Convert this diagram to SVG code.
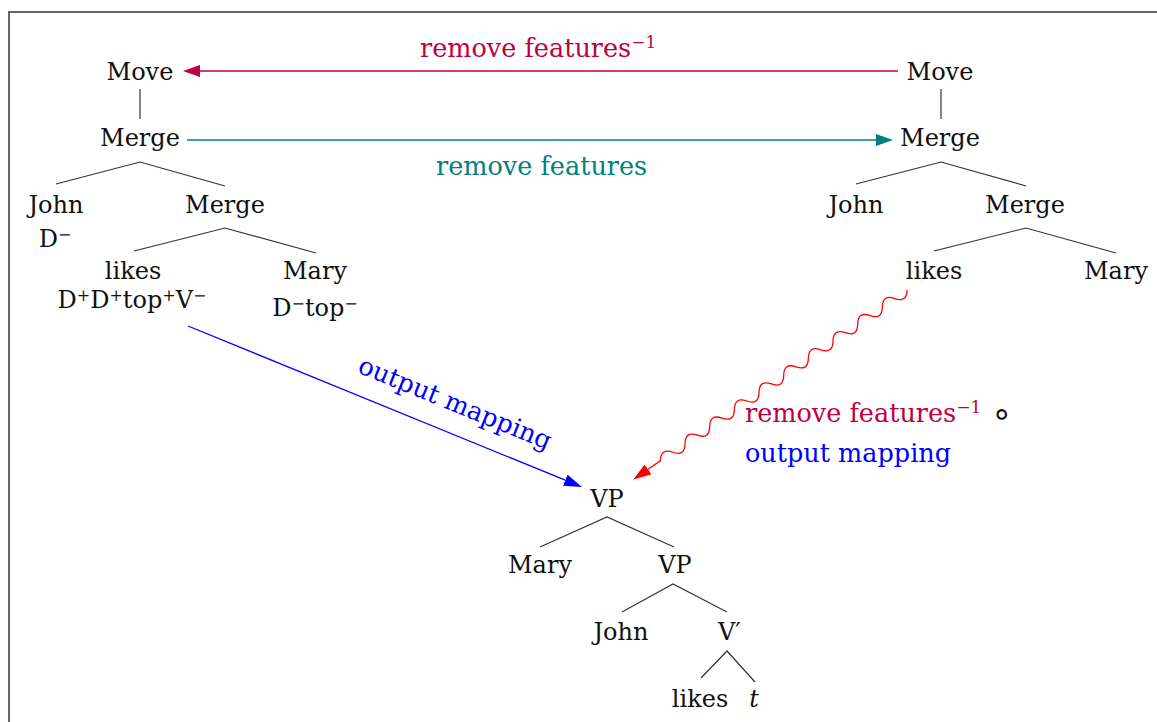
<svg xmlns="http://www.w3.org/2000/svg" width="1157" height="722" viewBox="0 0 1157 722">
<style>
.n{font-family:"DejaVu Serif","Liberation Serif",serif;font-size:24px;fill:#111;text-anchor:middle}
.lb{font-family:"DejaVu Serif","Liberation Serif",serif;font-size:25.5px}
.e{stroke:#333;stroke-width:1.2;fill:none}
.s{font-size:16px}
.s2{font-size:17px}
</style>
<defs>
<marker id="mP" viewBox="0 0 17 12" refX="0" refY="6" markerWidth="17" markerHeight="12" orient="auto" markerUnits="userSpaceOnUse"><path d="M0,0 L17,6 L0,12 z" fill="#bf0040"/></marker>
<marker id="mT" viewBox="0 0 17 12" refX="0" refY="6" markerWidth="17" markerHeight="12" orient="auto" markerUnits="userSpaceOnUse"><path d="M0,0 L17,6 L0,12 z" fill="#008080"/></marker>
<marker id="mB" viewBox="0 0 18 12" refX="0" refY="6" markerWidth="18" markerHeight="12" orient="auto" markerUnits="userSpaceOnUse"><path d="M0,0 L18,6 L0,12 z" fill="#0000ff"/></marker>
<marker id="mR" viewBox="0 0 18 12" refX="0" refY="6" markerWidth="18" markerHeight="12" orient="auto" markerUnits="userSpaceOnUse"><path d="M0,0 L18,6 L0,12 z" fill="#ff0000"/></marker>
</defs>
<rect width="1157" height="722" fill="#fff"/>
<path d="M9,722 L9,12 L1157,12" fill="none" stroke="#666" stroke-width="2"/>

<g id="connectors">
  <!-- left tree edges -->
  <path class="e" d="M140,89 L140,119"/>
  <path class="e" d="M56,184 L140,162 L225,186"/>
  <path class="e" d="M134,251 L225,228 L316,253"/>
  <!-- right tree edges -->
  <path class="e" d="M941,89 L941,119"/>
  <path class="e" d="M856,184 L941,162 L1026,186"/>
  <path class="e" d="M934,251 L1026,228 L1116,253"/>
  <!-- bottom tree edges -->
  <path class="e" d="M540,547 L607,517 L674,547"/>
  <path class="e" d="M622,612 L673,584 L727,612"/>
  <path class="e" d="M701,678 L727,651 L755,682"/>
  <!-- arrows -->
  <path d="M898,71 L200,71" stroke="#bf0040" stroke-width="1.3" fill="none" marker-end="url(#mP)"/>
  <path d="M187,140 L876,140" stroke="#008080" stroke-width="1.3" fill="none" marker-end="url(#mT)"/>
  <path d="M188,326 L565.3,480.2" stroke="#0000ff" stroke-width="1.3" fill="none" marker-end="url(#mB)"/>
  <g transform="translate(907,290) rotate(145.3)">
    <path d="M0,0 q7.5,-10.5 15,0 t15,0 t15,0 t15,0 t15,0 t15,0 t15,0 t15,0 t15,0 t15,0 t15,0 t15,0 t15,0 t15,0 t15,0 t15,0 t15,0 t15,0 t15,0 t15,0 l15,0" stroke="#ff0000" stroke-width="1.3" fill="none" marker-end="url(#mR)"/>
  </g>
</g>

<g id="arrow-labels">
  <text class="lb" x="420" y="57" fill="#bf0040">remove features<tspan class="s2" dy="-9">−1</tspan></text>
  <text class="lb" x="436" y="175" fill="#008080">remove features</text>
  <text class="lb" transform="translate(452,411) rotate(22.2)" x="0" y="0" fill="#0000ff" text-anchor="middle">output mapping</text>
  <text class="lb" x="745" y="422" fill="#bf0040">remove features<tspan class="s2" dy="-9">−1</tspan></text>
  <text x="1002" y="425" font-family="DejaVu Sans, sans-serif" font-size="34" fill="#111" text-anchor="middle">∘</text>
  <text class="lb" x="745" y="462" fill="#0000ff">output mapping</text>
</g>

<!-- left tree -->
<g id="L-move"><text class="n" x="140" y="80">Move</text></g>
<g id="L-merge1"><text class="n" x="140" y="146">Merge</text></g>
<g id="L-john"><text class="n" x="56" y="213">John</text><text class="n" x="55" y="247">D<tspan class="s" dy="-7">−</tspan></text></g>
<g id="L-merge2"><text class="n" x="225" y="213">Merge</text></g>
<g id="L-likes"><text class="n" x="133" y="279">likes</text><text class="n" x="132" y="308">D<tspan class="s" dy="-7">+</tspan><tspan dy="7">D</tspan><tspan class="s" dy="-7">+</tspan><tspan dy="7">top</tspan><tspan class="s" dy="-7">+</tspan><tspan dy="7">V</tspan><tspan class="s" dy="-7">−</tspan></text></g>
<g id="L-mary"><text class="n" x="315" y="279">Mary</text><text class="n" x="315" y="316">D<tspan class="s" dy="-7">−</tspan><tspan dy="7">top</tspan><tspan class="s" dy="-7">−</tspan></text></g>

<!-- right tree -->
<g id="R-move"><text class="n" x="940" y="80">Move</text></g>
<g id="R-merge1"><text class="n" x="940" y="146">Merge</text></g>
<g id="R-john"><text class="n" x="856" y="213">John</text></g>
<g id="R-merge2"><text class="n" x="1025" y="213">Merge</text></g>
<g id="R-likes"><text class="n" x="934" y="279">likes</text></g>
<g id="R-mary"><text class="n" x="1116" y="279">Mary</text></g>

<!-- bottom tree -->
<g id="B-vp1"><text class="n" x="607" y="507">VP</text></g>
<g id="B-mary"><text class="n" x="540" y="573">Mary</text></g>
<g id="B-vp2"><text class="n" x="675" y="573">VP</text></g>
<g id="B-john"><text class="n" x="621" y="640">John</text></g>
<g id="B-vbar"><text class="n" x="718" y="640" style="text-anchor:start">V′</text></g>
<g id="B-likes"><text class="n" x="700" y="707">likes</text></g>
<g id="B-t"><text class="n" x="754" y="707" font-style="italic" fill="#333">t</text></g>
</svg>
